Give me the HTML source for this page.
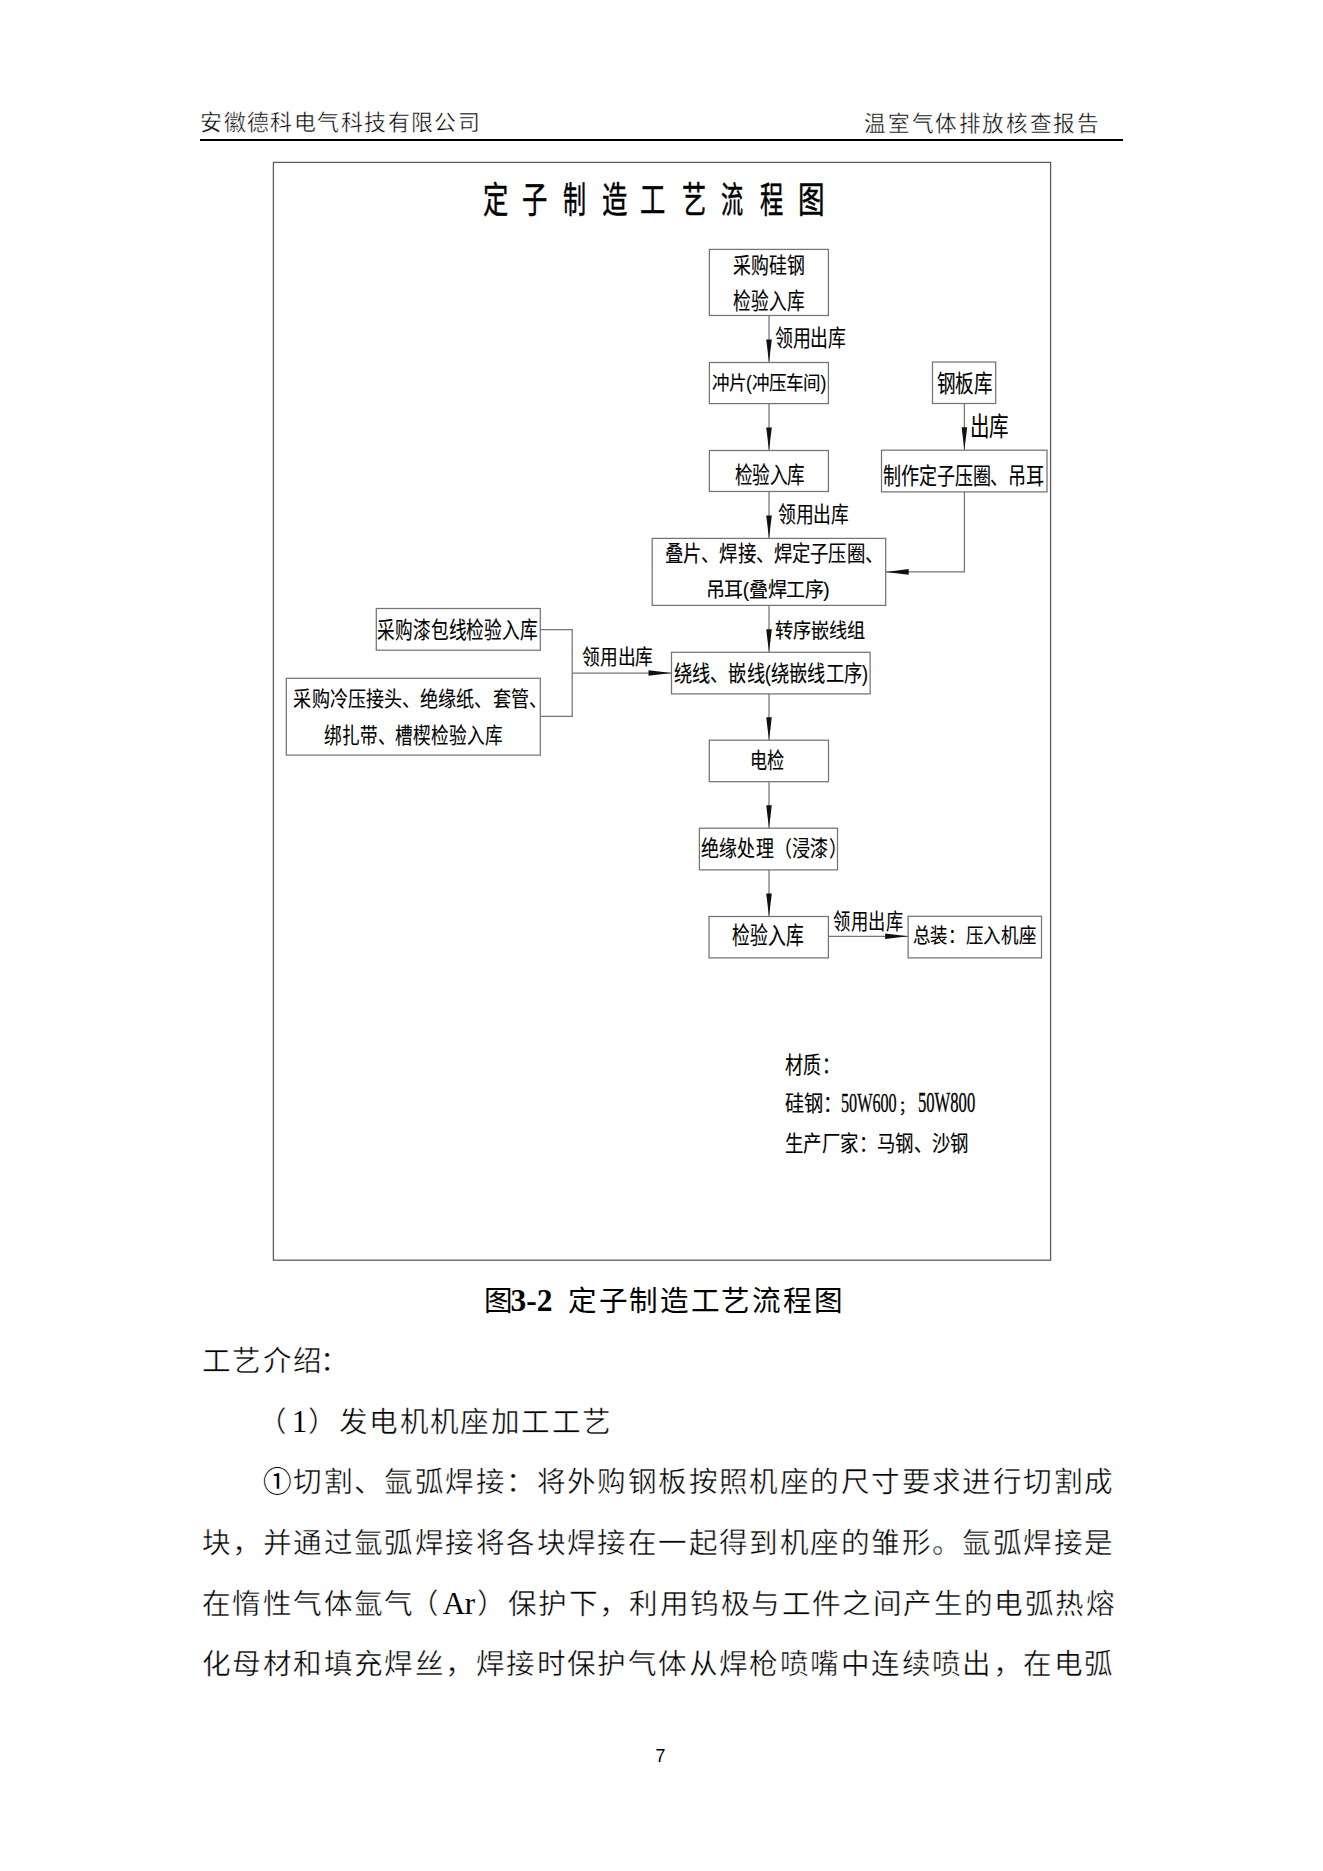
<!DOCTYPE html><html lang="zh-CN"><head><meta charset="utf-8"><style>
html,body{margin:0;padding:0;background:#fff;width:1323px;height:1871px;overflow:hidden}
svg{display:block}
.fc{font-family:"Liberation Sans",sans-serif;fill:#000;stroke:#000;stroke-width:0.12px}
.fcb{font-family:"Liberation Sans",sans-serif;fill:#000;stroke:#000;stroke-width:0.5px}
.hd{font-family:"Liberation Serif",serif;fill:#000;stroke:#fff;stroke-width:0.4px}
.bd{font-family:"Liberation Serif",serif;font-size:28.6px;fill:#000;stroke:#fff;stroke-width:0.45px}
.cap{font-family:"Liberation Serif",serif;font-size:28.6px;fill:#000}
.fcn{font-family:"Liberation Serif",serif;fill:#000;stroke:#000;stroke-width:0.35px}
.num{font-family:"Liberation Sans",sans-serif;fill:#000}
.ln{stroke:#555;stroke-width:1.1;fill:none}
</style></head><body>
<svg width="1323" height="1871" viewBox="0 0 1323 1871">
<rect width="1323" height="1871" fill="#fff"/>
<rect x="200" y="139" width="923" height="2" fill="#000"/>
<rect x="273.4" y="162.4" width="777.2" height="1097.8" fill="none" stroke="#5e5e5e" stroke-width="1.3"/>
<rect x="709.40" y="249.40" width="119.00" height="66.10" fill="none" stroke="#747474" stroke-width="1.25"/>
<rect x="709.40" y="362.50" width="119.00" height="41.10" fill="none" stroke="#747474" stroke-width="1.25"/>
<rect x="709.40" y="450.50" width="119.00" height="41.00" fill="none" stroke="#747474" stroke-width="1.25"/>
<rect x="652.20" y="538.40" width="233.50" height="67.00" fill="none" stroke="#747474" stroke-width="1.25"/>
<rect x="932.50" y="362.00" width="63.20" height="41.50" fill="none" stroke="#747474" stroke-width="1.25"/>
<rect x="881.50" y="450.20" width="165.50" height="41.70" fill="none" stroke="#747474" stroke-width="1.25"/>
<rect x="376.30" y="608.50" width="164.00" height="41.70" fill="none" stroke="#747474" stroke-width="1.25"/>
<rect x="286.30" y="678.30" width="254.00" height="76.80" fill="none" stroke="#747474" stroke-width="1.25"/>
<rect x="671.50" y="652.30" width="198.60" height="41.60" fill="none" stroke="#747474" stroke-width="1.25"/>
<rect x="709.30" y="740.20" width="119.20" height="41.50" fill="none" stroke="#747474" stroke-width="1.25"/>
<rect x="699.40" y="828.20" width="138.10" height="41.70" fill="none" stroke="#747474" stroke-width="1.25"/>
<rect x="709.00" y="916.50" width="119.40" height="41.40" fill="none" stroke="#747474" stroke-width="1.25"/>
<rect x="908.10" y="916.30" width="133.40" height="41.60" fill="none" stroke="#747474" stroke-width="1.25"/>
<polyline points="769.00,315.50 769.00,362.50" fill="none" stroke="#747474" stroke-width="1.25"/>
<polygon points="766.20,339.50 771.80,339.50 769.00,362.50" fill="#111"/>
<polyline points="769.00,403.60 769.00,450.50" fill="none" stroke="#747474" stroke-width="1.25"/>
<polygon points="766.20,427.50 771.80,427.50 769.00,450.50" fill="#111"/>
<polyline points="769.00,491.50 769.00,538.40" fill="none" stroke="#747474" stroke-width="1.25"/>
<polygon points="766.20,515.40 771.80,515.40 769.00,538.40" fill="#111"/>
<polyline points="769.00,605.40 769.00,652.20" fill="none" stroke="#747474" stroke-width="1.25"/>
<polygon points="766.20,629.20 771.80,629.20 769.00,652.20" fill="#111"/>
<polyline points="769.00,693.90 769.00,740.20" fill="none" stroke="#747474" stroke-width="1.25"/>
<polygon points="766.20,717.20 771.80,717.20 769.00,740.20" fill="#111"/>
<polyline points="769.00,781.70 769.00,828.20" fill="none" stroke="#747474" stroke-width="1.25"/>
<polygon points="766.20,805.20 771.80,805.20 769.00,828.20" fill="#111"/>
<polyline points="769.00,869.90 769.00,916.50" fill="none" stroke="#747474" stroke-width="1.25"/>
<polygon points="766.20,893.50 771.80,893.50 769.00,916.50" fill="#111"/>
<polyline points="964.40,403.50 964.40,450.20" fill="none" stroke="#747474" stroke-width="1.25"/>
<polygon points="961.60,427.20 967.20,427.20 964.40,450.20" fill="#111"/>
<polyline points="964.40,491.90 964.40,571.90 885.70,571.90" fill="none" stroke="#747474" stroke-width="1.25"/>
<polygon points="908.70,569.10 908.70,574.70 885.70,571.90" fill="#111"/>
<polyline points="540.30,629.60 572.20,629.60 572.20,716.30 540.30,716.30" fill="none" stroke="#747474" stroke-width="1.25"/>
<polyline points="572.20,673.00 671.50,673.00" fill="none" stroke="#747474" stroke-width="1.25"/>
<polygon points="648.50,670.20 648.50,675.80 671.50,673.00" fill="#111"/>
<polyline points="828.40,936.30 908.10,936.30" fill="none" stroke="#747474" stroke-width="1.25"/>
<polygon points="885.10,933.50 885.10,939.10 908.10,936.30" fill="#111"/>
<text class="fc" x="733.00" y="272.83" style="font-size:21.89px" textLength="72.00" lengthAdjust="spacingAndGlyphs">采购硅钢</text>
<text class="fc" x="733.00" y="309.04" style="font-size:22.56px" textLength="72.00" lengthAdjust="spacingAndGlyphs">检验入库</text>
<text class="fc" x="775.00" y="346.25" style="font-size:22.43px" textLength="70.10" lengthAdjust="spacingAndGlyphs">领用出库</text>
<text class="fc" x="711.61" y="390.05" style="font-size:19.41px" textLength="114.83" lengthAdjust="spacingAndGlyphs">冲片(冲压车间)</text>
<text class="fc" x="734.61" y="482.70" style="font-size:23.00px" textLength="70.27" lengthAdjust="spacingAndGlyphs">检验入库</text>
<text class="fc" x="778.05" y="521.99" style="font-size:21.33px" textLength="70.05" lengthAdjust="spacingAndGlyphs">领用出库</text>
<text class="fc" x="665.05" y="561.07" style="font-size:21.25px" textLength="217.75" lengthAdjust="spacingAndGlyphs">叠片、焊接、焊定子压圈、</text>
<text class="fc" x="705.54" y="596.93" style="font-size:20.50px" textLength="124.07" lengthAdjust="spacingAndGlyphs">吊耳(叠焊工序)</text>
<text class="fc" x="937.00" y="391.87" style="font-size:23.39px" textLength="54.78" lengthAdjust="spacingAndGlyphs">钢板库</text>
<text class="fc" x="970.10" y="436.23" style="font-size:26.20px" textLength="38.78" lengthAdjust="spacingAndGlyphs">出库</text>
<text class="fc" x="883.22" y="483.82" style="font-size:23.26px" textLength="160.78" lengthAdjust="spacingAndGlyphs">制作定子压圈、吊耳</text>
<text class="fc" x="775.39" y="638.46" style="font-size:20.41px" textLength="89.00" lengthAdjust="spacingAndGlyphs">转序嵌线组</text>
<text class="fc" x="377.22" y="638.46" style="font-size:22.75px" textLength="160.61" lengthAdjust="spacingAndGlyphs">采购漆包线检验入库</text>
<text class="fc" x="293.44" y="706.20" style="font-size:21.01px" textLength="253.36" lengthAdjust="spacingAndGlyphs">采购冷压接头、绝缘纸、套管、</text>
<text class="fc" x="324.05" y="743.07" style="font-size:21.71px" textLength="178.61" lengthAdjust="spacingAndGlyphs">绑扎带、槽楔检验入库</text>
<text class="fc" x="582.00" y="663.97" style="font-size:20.89px" textLength="71.22" lengthAdjust="spacingAndGlyphs">领用出库</text>
<text class="fc" x="673.56" y="681.44" style="font-size:22.06px" textLength="194.66" lengthAdjust="spacingAndGlyphs">绕线、嵌线(绕嵌线工序)</text>
<text class="fc" x="749.71" y="768.15" style="font-size:21.60px" textLength="34.90" lengthAdjust="spacingAndGlyphs">电检</text>
<text class="fc" x="701.00" y="855.52" style="font-size:21.73px" textLength="145.80" lengthAdjust="spacingAndGlyphs">绝缘处理（浸漆）</text>
<text class="fc" x="732.39" y="944.17" style="font-size:23.73px" textLength="72.00" lengthAdjust="spacingAndGlyphs">检验入库</text>
<text class="fc" x="833.00" y="928.59" style="font-size:21.73px" textLength="70.05" lengthAdjust="spacingAndGlyphs">领用出库</text>
<text class="fc" x="912.61" y="943.28" style="font-size:20.71px" textLength="123.93" lengthAdjust="spacingAndGlyphs">总装：压入机座</text>
<text class="fc" x="785.00" y="1072.91" style="font-size:22.71px" textLength="54.80" lengthAdjust="spacingAndGlyphs">材质：</text>
<text class="fc" x="785.00" y="1110.97" style="font-size:21.46px" textLength="56.28" lengthAdjust="spacingAndGlyphs">硅钢：</text>
<text class="fcn" x="841.00" y="1112.04" style="font-size:28.24px" textLength="55.68" lengthAdjust="spacingAndGlyphs">50W600</text>
<text class="fc" x="898.22" y="1111.81" style="font-size:15.63px" textLength="18.56" lengthAdjust="spacingAndGlyphs">；</text>
<text class="fcn" x="917.95" y="1112.04" style="font-size:28.66px" textLength="57.26" lengthAdjust="spacingAndGlyphs">50W800</text>
<text class="fc" x="785.00" y="1150.89" style="font-size:22.03px" textLength="183.88" lengthAdjust="spacingAndGlyphs">生产厂家：马钢、沙钢</text>
<text class="hd" x="200.10" y="130.40" style="font-size:21.89px" textLength="279.70" lengthAdjust="spacing">安徽德科电气科技有限公司</text>
<text class="hd" x="864.49" y="130.98" style="font-size:21.60px" textLength="234.41" lengthAdjust="spacing">温室气体排放核查报告</text>
<text class="num" x="655.61" y="1762.48" style="font-size:17.83px">7</text>
<text class="fcb" x="482.55" y="213.25" style="font-size:36.69px" textLength="25.57" lengthAdjust="spacingAndGlyphs">定</text>
<text class="fcb" x="521.74" y="213.25" style="font-size:36.69px" textLength="25.57" lengthAdjust="spacingAndGlyphs">子</text>
<text class="fcb" x="563.01" y="213.25" style="font-size:36.69px" textLength="23.22" lengthAdjust="spacingAndGlyphs">制</text>
<text class="fcb" x="602.20" y="213.25" style="font-size:36.69px" textLength="25.57" lengthAdjust="spacingAndGlyphs">造</text>
<text class="fcb" x="640.49" y="213.25" style="font-size:36.69px" textLength="25.57" lengthAdjust="spacingAndGlyphs">工</text>
<text class="fcb" x="681.76" y="213.25" style="font-size:36.69px" textLength="24.40" lengthAdjust="spacingAndGlyphs">艺</text>
<text class="fcb" x="720.95" y="213.25" style="font-size:36.69px" textLength="22.32" lengthAdjust="spacingAndGlyphs">流</text>
<text class="fcb" x="760.14" y="213.25" style="font-size:36.69px" textLength="23.50" lengthAdjust="spacingAndGlyphs">程</text>
<text class="fcb" x="797.53" y="213.25" style="font-size:36.69px" textLength="26.85" lengthAdjust="spacingAndGlyphs">图</text>
<text class="cap" y="1310.50"><tspan x="484.00">图</tspan><tspan x="510.50" style="font-weight:bold;font-size:31.5px;font-family:'Liberation Serif',serif">3-2</tspan><tspan x="567.91">定</tspan><tspan x="598.61">子</tspan><tspan x="629.31">制</tspan><tspan x="660.01">造</tspan><tspan x="690.71">工</tspan><tspan x="721.41">艺</tspan><tspan x="752.11">流</tspan><tspan x="782.81">程</tspan><tspan x="813.51">图</tspan></text>
<text class="bd" y="1371.20"><tspan x="201.91">工</tspan><tspan x="232.33">艺</tspan><tspan x="262.75">介</tspan><tspan x="293.17">绍</tspan><tspan x="319.59">：</tspan></text>
<text class="bd" y="1431.80"><tspan x="258.25">（</tspan><tspan x="291.76" style="font-size:31.0px;stroke:none">1</tspan><tspan x="308.37">）</tspan><tspan x="338.79">发</tspan><tspan x="369.21">电</tspan><tspan x="399.63">机</tspan><tspan x="430.05">机</tspan><tspan x="460.47">座</tspan><tspan x="490.89">加</tspan><tspan x="521.31">工</tspan><tspan x="551.73">工</tspan><tspan x="582.15">艺</tspan></text>
<text class="bd" y="1492.40"><tspan x="262.75" style="stroke:none">①</tspan><tspan x="293.17">切</tspan><tspan x="323.59">割</tspan><tspan x="354.01">、</tspan><tspan x="384.43">氩</tspan><tspan x="414.85">弧</tspan><tspan x="445.27">焊</tspan><tspan x="475.69">接</tspan><tspan x="505.61">：</tspan><tspan x="536.53">将</tspan><tspan x="566.95">外</tspan><tspan x="597.37">购</tspan><tspan x="627.79">钢</tspan><tspan x="658.21">板</tspan><tspan x="688.63">按</tspan><tspan x="719.05">照</tspan><tspan x="749.47">机</tspan><tspan x="779.89">座</tspan><tspan x="810.31">的</tspan><tspan x="840.73">尺</tspan><tspan x="871.15">寸</tspan><tspan x="901.57">要</tspan><tspan x="931.99">求</tspan><tspan x="962.41">进</tspan><tspan x="992.83">行</tspan><tspan x="1023.25">切</tspan><tspan x="1053.67">割</tspan><tspan x="1084.09">成</tspan></text>
<text class="bd" y="1553.00"><tspan x="201.91">块</tspan><tspan x="232.33">，</tspan><tspan x="262.75">并</tspan><tspan x="293.17">通</tspan><tspan x="323.59">过</tspan><tspan x="354.01">氩</tspan><tspan x="384.43">弧</tspan><tspan x="414.85">焊</tspan><tspan x="445.27">接</tspan><tspan x="475.69">将</tspan><tspan x="506.11">各</tspan><tspan x="536.53">块</tspan><tspan x="566.95">焊</tspan><tspan x="597.37">接</tspan><tspan x="627.79">在</tspan><tspan x="658.21">一</tspan><tspan x="688.63">起</tspan><tspan x="719.05">得</tspan><tspan x="749.47">到</tspan><tspan x="779.89">机</tspan><tspan x="810.31">座</tspan><tspan x="840.73">的</tspan><tspan x="871.15">雏</tspan><tspan x="901.57">形</tspan><tspan x="931.99">。</tspan><tspan x="962.41">氩</tspan><tspan x="992.83">弧</tspan><tspan x="1023.25">焊</tspan><tspan x="1053.67">接</tspan><tspan x="1084.09">是</tspan></text>
<text class="bd" y="1613.60"><tspan x="201.91">在</tspan><tspan x="232.33">惰</tspan><tspan x="262.75">性</tspan><tspan x="293.17">气</tspan><tspan x="323.59">体</tspan><tspan x="354.01">氩</tspan><tspan x="384.43">气</tspan><tspan x="410.35">（</tspan><tspan x="442.86" style="font-size:31.0px;stroke:none">A</tspan><tspan x="464.81" style="font-size:31.0px;stroke:none">r</tspan><tspan x="477.34">）</tspan><tspan x="507.76">保</tspan><tspan x="538.18">护</tspan><tspan x="568.60">下</tspan><tspan x="599.02">，</tspan><tspan x="629.44">利</tspan><tspan x="659.86">用</tspan><tspan x="690.28">钨</tspan><tspan x="720.70">极</tspan><tspan x="751.12">与</tspan><tspan x="781.54">工</tspan><tspan x="811.96">件</tspan><tspan x="842.38">之</tspan><tspan x="872.80">间</tspan><tspan x="903.22">产</tspan><tspan x="933.64">生</tspan><tspan x="964.06">的</tspan><tspan x="994.48">电</tspan><tspan x="1024.90">弧</tspan><tspan x="1055.32">热</tspan><tspan x="1085.74">熔</tspan></text>
<text class="bd" y="1674.20"><tspan x="201.91">化</tspan><tspan x="232.33">母</tspan><tspan x="262.75">材</tspan><tspan x="293.17">和</tspan><tspan x="323.59">填</tspan><tspan x="354.01">充</tspan><tspan x="384.43">焊</tspan><tspan x="414.85">丝</tspan><tspan x="445.27">，</tspan><tspan x="475.69">焊</tspan><tspan x="506.11">接</tspan><tspan x="536.53">时</tspan><tspan x="566.95">保</tspan><tspan x="597.37">护</tspan><tspan x="627.79">气</tspan><tspan x="658.21">体</tspan><tspan x="688.63">从</tspan><tspan x="719.05">焊</tspan><tspan x="749.47">枪</tspan><tspan x="779.89">喷</tspan><tspan x="810.31">嘴</tspan><tspan x="840.73">中</tspan><tspan x="871.15">连</tspan><tspan x="901.57">续</tspan><tspan x="931.99">喷</tspan><tspan x="962.41">出</tspan><tspan x="992.83">，</tspan><tspan x="1023.25">在</tspan><tspan x="1053.67">电</tspan><tspan x="1084.09">弧</tspan></text>
</svg></body></html>
